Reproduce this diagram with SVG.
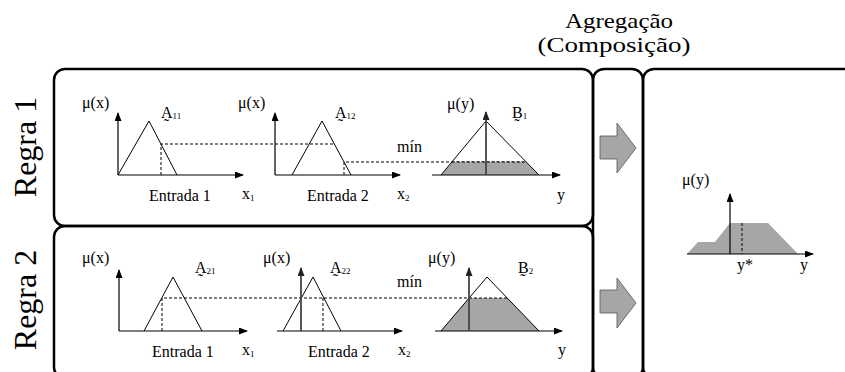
<svg xmlns="http://www.w3.org/2000/svg" width="845" height="372" viewBox="0 0 845 372" font-family="'Liberation Serif','Times New Roman',serif">
<style>
text{font-family:"Liberation Serif","DejaVu Serif",serif;fill:#000}
.lbl{font-size:16px}
.sub{font-size:9px}
.big{font-size:32px}
.hd{font-size:21px}
.box{fill:none;stroke:#000;stroke-width:2.5}
.ax{fill:none;stroke:#000;stroke-width:1.2}
.axg{fill:none;stroke:#444;stroke-width:1.8}
.mf{fill:none;stroke:#000;stroke-width:1}
.dash{fill:none;stroke:#000;stroke-width:1;stroke-dasharray:3,2}
.fill{fill:#a6a6a6;stroke:none}
.blk{fill:#a6a6a6;stroke:#555;stroke-width:0.8}
</style>
<defs>
<marker id="ah" markerWidth="9" markerHeight="7" refX="8" refY="3.5" orient="auto" markerUnits="userSpaceOnUse">
<path d="M0,0 L9,3.5 L0,7 Z" fill="#000"/>
</marker>
<marker id="ahg" markerWidth="9" markerHeight="7" refX="8" refY="3.5" orient="auto" markerUnits="userSpaceOnUse">
<path d="M0,0 L9,3.5 L0,7 Z" fill="#222"/>
</marker>
</defs>

<g id="header">
<text class="hd" x="619" y="28" text-anchor="middle" textLength="108" lengthAdjust="spacingAndGlyphs">Agregação</text>
<text class="hd" x="614" y="52" text-anchor="middle" textLength="153" lengthAdjust="spacingAndGlyphs">(Composição)</text>
</g>

<g id="rule1">
<rect class="box" x="54" y="69" width="539" height="157" rx="11" ry="11"/>
<text class="big" transform="translate(36,147) rotate(-90)" text-anchor="middle">Regra 1</text>
<polyline class="mf" points="118,175 149,121 177,175"/>
<path class="dash" d="M161,175 V144 H334"/>
<path class="ax" d="M118,175 V113" marker-end="url(#ah)"/>
<path class="ax" d="M118,175 H243" marker-end="url(#ah)"/>
<text class="lbl" x="82" y="108">μ(x)</text>
<text class="lbl" x="161" y="118">A̰<tspan class="sub" dy="1">11</tspan></text>
<text class="lbl" x="149" y="201">Entrada 1</text>
<text class="lbl" x="242" y="199">x<tspan class="sub" dy="2">1</tspan></text>
<polyline class="mf" points="292,175 322,121 351,175"/>
<path class="dash" d="M344,175 V162 H526"/>
<path class="ax" d="M275,175 V113" marker-end="url(#ah)"/>
<path class="ax" d="M275,175 H400" marker-end="url(#ah)"/>
<text class="lbl" x="238" y="108">μ(x)</text>
<text class="lbl" x="335" y="118">A̰<tspan class="sub" dy="1">12</tspan></text>
<text class="lbl" x="307" y="201">Entrada 2</text>
<text class="lbl" x="397" y="199">x<tspan class="sub" dy="2">2</tspan></text>
<text class="lbl" x="397" y="152">mín</text>
<polygon class="fill" points="441,175 452,162 526,162 539,175"/>
<path class="dash" d="M452,162 H526"/>
<polyline class="mf" points="441,175 486,121 539,175"/>
<path class="ax" d="M432,175 H560" marker-end="url(#ah)"/>
<path class="axg" d="M486,175 V112" marker-end="url(#ahg)"/>
<text class="lbl" x="447" y="109">μ(y)</text>
<text class="lbl" x="512" y="118">B̰<tspan class="sub" dy="1">1</tspan></text>
<text class="lbl" x="557" y="200">y</text>
</g>

<g id="rule2">
<rect class="box" x="54" y="226" width="539" height="152" rx="11" ry="11"/>
<text class="big" transform="translate(36,300) rotate(-90)" text-anchor="middle">Regra 2</text>
<polygon class="fill" points="441,331 469,298 507,298 539,331"/>
<polyline class="mf" points="144,331 173,277 202,331"/>
<path class="dash" d="M162,331 V298 H507"/>
<path class="ax" d="M119,331 V270" marker-end="url(#ah)"/>
<path class="ax" d="M119,331 H247" marker-end="url(#ah)"/>
<text class="lbl" x="82" y="263">μ(x)</text>
<text class="lbl" x="195" y="273">A̰<tspan class="sub" dy="1">21</tspan></text>
<text class="lbl" x="152" y="357">Entrada 1</text>
<text class="lbl" x="242" y="355">x<tspan class="sub" dy="2">1</tspan></text>
<polyline class="mf" points="283,331 313,277 341,331"/>
<path class="dash" d="M323,331 V298"/>
<path class="ax" d="M277,331 H402" marker-end="url(#ah)"/>
<path class="axg" d="M301,331 V268" marker-end="url(#ahg)"/>
<text class="lbl" x="263" y="263">μ(x)</text>
<text class="lbl" x="330" y="273">A̰<tspan class="sub" dy="1">22</tspan></text>
<text class="lbl" x="308" y="357">Entrada 2</text>
<text class="lbl" x="398" y="355">x<tspan class="sub" dy="2">2</tspan></text>
<text class="lbl" x="397" y="287">mín</text>
<polyline class="mf" points="441,331 487,277 539,331"/>
<path class="ax" d="M435,331 H562" marker-end="url(#ah)"/>
<path class="axg" d="M469,331 V268" marker-end="url(#ahg)"/>
<text class="lbl" x="428" y="263">μ(y)</text>
<text class="lbl" x="518" y="273">B̰<tspan class="sub" dy="1">2</tspan></text>
<text class="lbl" x="558" y="355">y</text>
</g>

<g id="aggregation">
<rect class="box" x="593" y="69" width="50" height="309" rx="11" ry="11"/>
</g>

<g id="connectors">
<polygon class="blk" points="600,136 617,136 617,123 636,148 617,173 617,159 600,159"/>
<polygon class="blk" points="600,290 617,290 617,278 636,303 617,328 617,313 600,313"/>
</g>

<g id="result">
<rect class="box" x="643" y="69" width="240" height="309" rx="11" ry="11"/>
<polygon class="fill" points="687,254 698,242 715,242 730,223 768,223 798,254" stroke="#333" stroke-width="0.8"/>
<path class="dash" d="M742,223 V254"/>
<path class="ax" d="M730,254 V194" marker-end="url(#ah)"/>
<path class="ax" d="M687,254 H813" marker-end="url(#ah)"/>
<text class="lbl" x="682" y="185">μ(y)</text>
<text class="lbl" x="737" y="270">y*</text>
<text class="lbl" x="800" y="270">y</text>
</g>
</svg>
